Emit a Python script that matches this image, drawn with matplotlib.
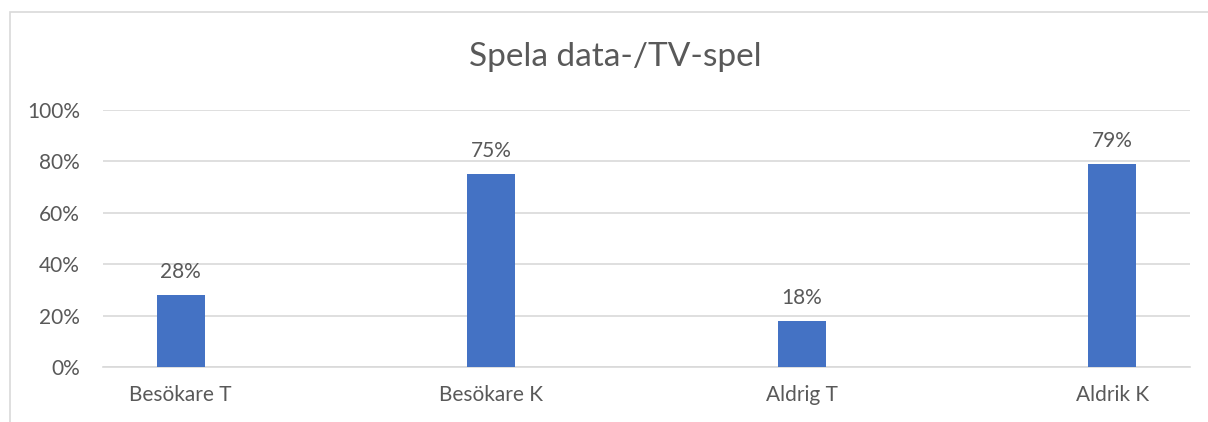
import matplotlib
matplotlib.use("Agg")
import matplotlib.pyplot as plt
from matplotlib.patches import Rectangle
from matplotlib.ticker import FuncFormatter

# chart data
categories = ["Besökare T", "Besökare K", "Aldrig T", "Aldrik K"]
values = [0.28, 0.75, 0.18, 0.79]
labels = ["28%", "75%", "18%", "79%"]
yticks = [0, 0.2, 0.4, 0.6, 0.8, 1.0]

plt.rcParams['font.family'] = ['Lato', 'DejaVu Sans']
text_col = '#595959'

fig = plt.figure(figsize=(12.08, 4.22), dpi=100)
ax = fig.add_axes([103/1208, 1 - 367/422, (1190-103)/1208, (367-110)/422])

# outer chart border (runs off the right and bottom edges)
fig.patches.append(Rectangle((10/1208, -0.1), 1.2, 1 - 12/422 + 0.1,
                             transform=fig.transFigure, fill=False,
                             edgecolor='#d9d9d9', linewidth=1.2))

x = range(len(categories))
ax.bar(x, values, width=0.155, color='#4472C4', zorder=3)
for xi, v, lab in zip(x, values, labels):
    ax.text(xi, v + 0.05, lab, ha='center', va='bottom', fontsize=15, color=text_col)

ax.set_xlim(-0.25, 3.25)
ax.set_ylim(0, 1.0)
ax.set_yticks(yticks)
ax.yaxis.set_major_formatter(FuncFormatter(lambda v, p: f"{v*100:.0f}%"))
ax.set_xticks(list(x))
ax.set_xticklabels(categories)
ax.tick_params(axis='both', length=0, labelsize=15, labelcolor=text_col)
ax.tick_params(axis='y', pad=16.5)
ax.tick_params(axis='x', pad=13)
ax.grid(axis='y', color='#d9d9d9', linewidth=1.2, zorder=0)
for s in ax.spines.values():
    s.set_visible(False)
ax.spines['bottom'].set_visible(True)
ax.spines['bottom'].set_color('#d9d9d9')
ax.spines['bottom'].set_linewidth(1.2)

fig.text(615/1208, 1 - 57/422, "Spela data-/TV-spel", ha='center', va='center',
         fontsize=24, color=text_col)

fig.savefig("out.png", dpi=100)
